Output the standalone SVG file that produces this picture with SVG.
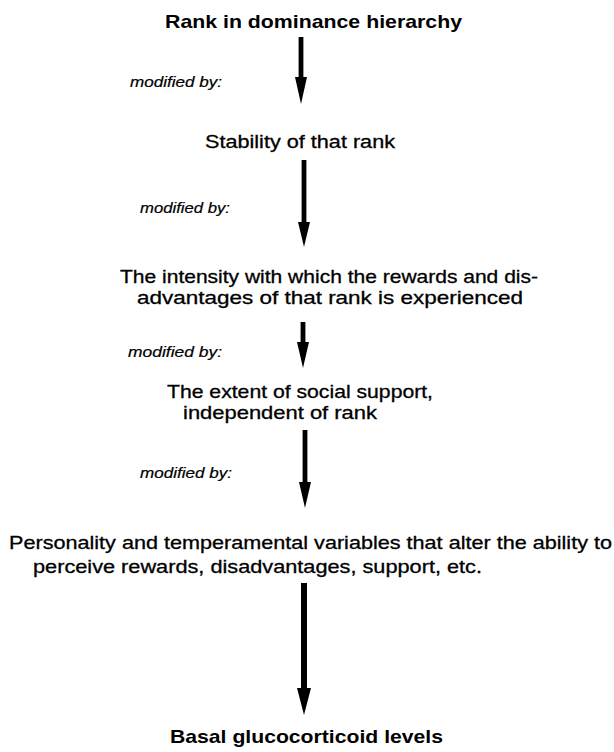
<svg xmlns="http://www.w3.org/2000/svg" width="614" height="752" viewBox="0 0 614 752">
  <style>
    text { font-family: "Liberation Sans", Arial, Helvetica, sans-serif; fill: #000; }
    .head { font-size: 19px; font-weight: bold; }
    .body { font-size: 18.5px; stroke: #000; stroke-width: 0.3px; }
    .mod { font-size: 14px; font-style: italic; stroke: #000; stroke-width: 0.2px; }
    .arrow { fill: #000; stroke: none; }
  </style>
  <rect width="614" height="752" fill="#fff"/>

  <g id="rank">
    <text class="head" x="165" y="28" textLength="297" lengthAdjust="spacingAndGlyphs">Rank in dominance hierarchy</text>
  </g>

  <g id="stability">
    <text class="body" x="205" y="148" textLength="190" lengthAdjust="spacingAndGlyphs">Stability of that rank</text>
  </g>

  <g id="intensity">
    <text class="body" x="120" y="283" textLength="418" lengthAdjust="spacingAndGlyphs">The intensity with which the rewards and dis-</text>
    <text class="body" x="137" y="304" textLength="386" lengthAdjust="spacingAndGlyphs">advantages of that rank is experienced</text>
  </g>

  <g id="support">
    <text class="body" x="167" y="398" textLength="266" lengthAdjust="spacingAndGlyphs">The extent of social support,</text>
    <text class="body" x="183" y="419" textLength="194" lengthAdjust="spacingAndGlyphs">independent of rank</text>
  </g>

  <g id="personality">
    <text class="body" x="9" y="549" textLength="603" lengthAdjust="spacingAndGlyphs">Personality and temperamental variables that alter the ability to</text>
    <text class="body" x="33" y="573" textLength="449" lengthAdjust="spacingAndGlyphs">perceive rewards, disadvantages, support, etc.</text>
  </g>

  <g id="glucocorticoid">
    <text class="head" x="170" y="743" textLength="273" lengthAdjust="spacingAndGlyphs">Basal glucocorticoid levels</text>
  </g>

  <g id="connectors">
    <path class="arrow" d="M298.6 37 H303.4 V77 H307 L301 104 L295 77 H298.6 Z"/>
    <path class="arrow" d="M301.6 160 H306.4 V222 H310 L304 247 L298 222 H301.6 Z"/>
    <path class="arrow" d="M300.6 322 H305.4 V342 H309 L303 368 L297 342 H300.6 Z"/>
    <path class="arrow" d="M302.6 430 H307.4 V482 H311 L305 508 L299 482 H302.6 Z"/>
    <path class="arrow" d="M301 583 H307 V688 H311 L304 715 L297 688 H301 Z"/>
    <text class="mod" x="130" y="87" textLength="92" lengthAdjust="spacingAndGlyphs">modified by:</text>
    <text class="mod" x="140" y="213" textLength="90" lengthAdjust="spacingAndGlyphs">modified by:</text>
    <text class="mod" x="128" y="357" textLength="94" lengthAdjust="spacingAndGlyphs">modified by:</text>
    <text class="mod" x="140" y="478" textLength="92" lengthAdjust="spacingAndGlyphs">modified by:</text>
  </g>
</svg>
